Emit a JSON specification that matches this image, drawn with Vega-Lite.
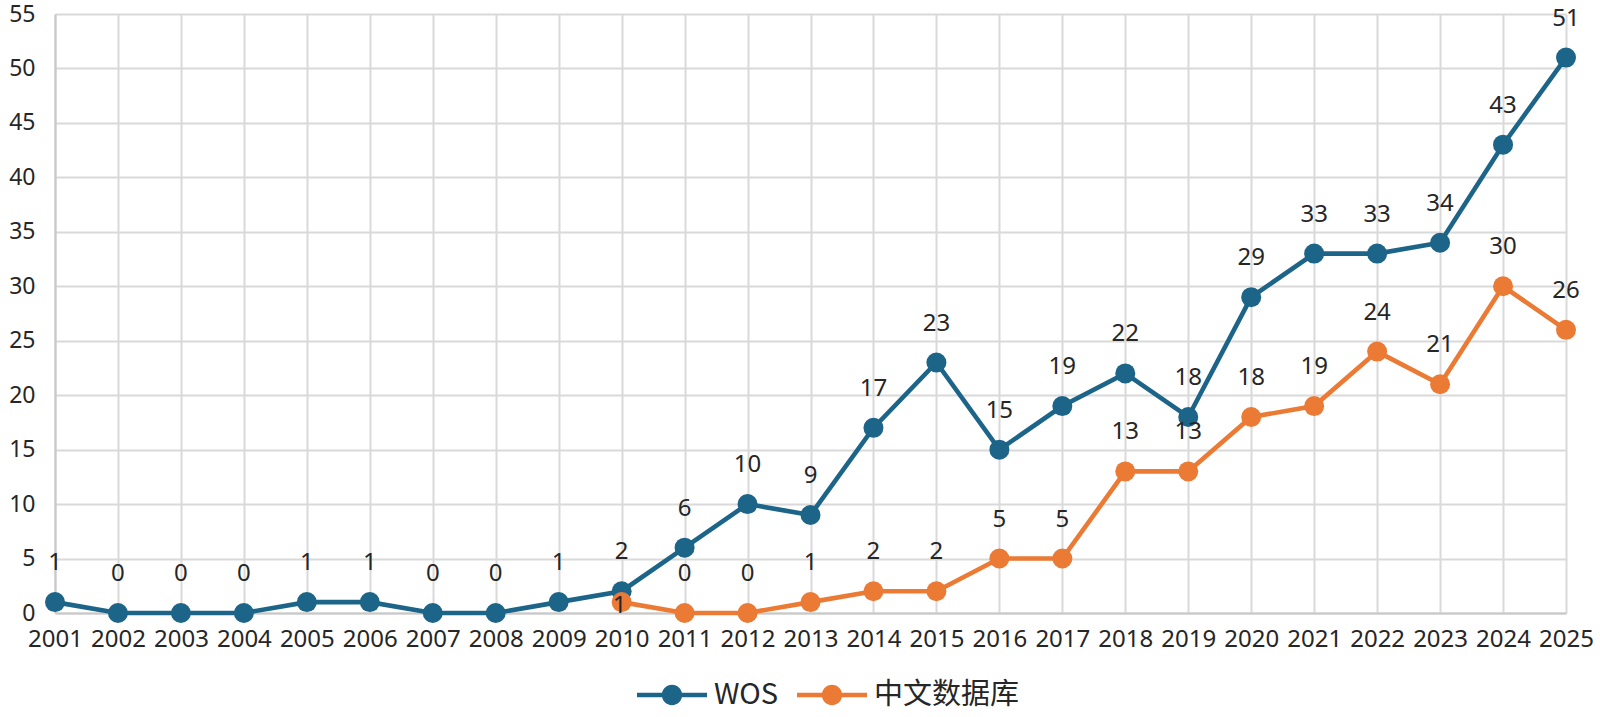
{
  "$schema": "https://vega.github.io/schema/vega-lite/v6.json",
  "width": 1511,
  "height": 599,
  "autosize": {"type": "none"},
  "padding": {"left": 55, "top": 14, "right": 34, "bottom": 104},
  "background": "white",
  "data": {
    "values": [
      {"year": "2001", "series": "WOS", "value": 1},
      {"year": "2002", "series": "WOS", "value": 0},
      {"year": "2003", "series": "WOS", "value": 0},
      {"year": "2004", "series": "WOS", "value": 0},
      {"year": "2005", "series": "WOS", "value": 1},
      {"year": "2006", "series": "WOS", "value": 1},
      {"year": "2007", "series": "WOS", "value": 0},
      {"year": "2008", "series": "WOS", "value": 0},
      {"year": "2009", "series": "WOS", "value": 1},
      {"year": "2010", "series": "WOS", "value": 2},
      {"year": "2011", "series": "WOS", "value": 6},
      {"year": "2012", "series": "WOS", "value": 10},
      {"year": "2013", "series": "WOS", "value": 9},
      {"year": "2014", "series": "WOS", "value": 17},
      {"year": "2015", "series": "WOS", "value": 23},
      {"year": "2016", "series": "WOS", "value": 15},
      {"year": "2017", "series": "WOS", "value": 19},
      {"year": "2018", "series": "WOS", "value": 22},
      {"year": "2019", "series": "WOS", "value": 18},
      {"year": "2020", "series": "WOS", "value": 29},
      {"year": "2021", "series": "WOS", "value": 33},
      {"year": "2022", "series": "WOS", "value": 33},
      {"year": "2023", "series": "WOS", "value": 34},
      {"year": "2024", "series": "WOS", "value": 43},
      {"year": "2025", "series": "WOS", "value": 51},
      {"year": "2010", "series": "中文数据库", "value": 1},
      {"year": "2011", "series": "中文数据库", "value": 0},
      {"year": "2012", "series": "中文数据库", "value": 0},
      {"year": "2013", "series": "中文数据库", "value": 1},
      {"year": "2014", "series": "中文数据库", "value": 2},
      {"year": "2015", "series": "中文数据库", "value": 2},
      {"year": "2016", "series": "中文数据库", "value": 5},
      {"year": "2017", "series": "中文数据库", "value": 5},
      {"year": "2018", "series": "中文数据库", "value": 13},
      {"year": "2019", "series": "中文数据库", "value": 13},
      {"year": "2020", "series": "中文数据库", "value": 18},
      {"year": "2021", "series": "中文数据库", "value": 19},
      {"year": "2022", "series": "中文数据库", "value": 24},
      {"year": "2023", "series": "中文数据库", "value": 21},
      {"year": "2024", "series": "中文数据库", "value": 30},
      {"year": "2025", "series": "中文数据库", "value": 26}
    ]
  },
  "encoding": {
    "x": {
      "field": "year",
      "type": "ordinal",
      "scale": {"type": "point", "padding": 0},
      "title": null,
      "axis": {
        "labelAngle": 0,
        "labelFont": "Noto Sans",
        "labelFontSize": 24,
        "labelColor": "#262626",
        "labelPadding": 14,
        "ticks": false,
        "grid": true,
        "gridColor": "#D9D9D9",
        "gridWidth": 2,
        "domainColor": "#C8C8C8",
        "domainWidth": 2,
        "zindex": 0
      }
    },
    "y": {
      "field": "value",
      "type": "quantitative",
      "scale": {"domain": [0, 55], "nice": false},
      "title": null,
      "axis": {
        "values": [0, 5, 10, 15, 20, 25, 30, 35, 40, 45, 50, 55],
        "labelFont": "Noto Sans",
        "labelFontSize": 23,
        "labelColor": "#262626",
        "labelPadding": 20,
        "ticks": false,
        "grid": true,
        "gridColor": "#D9D9D9",
        "gridWidth": 2,
        "domainColor": "#C8C8C8",
        "domainWidth": 2,
        "zindex": 0
      }
    },
    "color": {
      "field": "series",
      "type": "nominal",
      "sort": ["WOS", "中文数据库"],
      "scale": {"domain": ["WOS", "中文数据库"], "range": ["#1C6488", "#EB7A35"]},
      "title": null,
      "legend": {
        "orient": "none",
        "legendX": 582,
        "legendY": 646,
        "direction": "horizontal",
        "padding": 0,
        "symbolType": "M-1,-0.065L1,-0.065L1,0.065L-1,0.065Z M0.29,0 A0.29,0.29 0 1 1 -0.29,0 A0.29,0.29 0 1 1 0.29,0 Z",
        "symbolSize": 4900,
        "labelFont": "Noto Sans CJK SC",
        "labelFontSize": 29,
        "labelColor": "#262626",
        "labelOffset": 7,
        "columnPadding": 18,
        "encode": {
          "symbols": {
            "update": {
              "fill": {"scale": "color", "field": "value"},
              "stroke": {"value": "transparent"},
              "strokeWidth": {"value": 0},
              "opacity": {"value": 1}
            }
          }
        }
      }
    }
  },
  "layer": [
    {
      "mark": {"type": "line", "strokeWidth": 4.6, "point": {"filled": true, "size": 400, "opacity": 1}}
    },
    {
      "transform": [{"filter": "!(datum.series === '中文数据库' && datum.year === '2010')"}],
      "mark": {"type": "text", "dy": -39, "font": "Noto Sans", "fontSize": 24, "color": "#262626", "baseline": "middle"},
      "encoding": {
        "text": {"field": "value", "type": "quantitative"},
        "color": {"value": "#262626"}
      }
    },
    {
      "transform": [{"filter": "datum.series === '中文数据库' && datum.year === '2010'"}],
      "mark": {"type": "text", "dy": 4, "dx": -2, "font": "Noto Sans", "fontSize": 24, "color": "#262626", "baseline": "middle"},
      "encoding": {
        "text": {"field": "value", "type": "quantitative"},
        "color": {"value": "#262626"}
      }
    }
  ],
  "config": {
    "view": {"stroke": null}
  }
}
